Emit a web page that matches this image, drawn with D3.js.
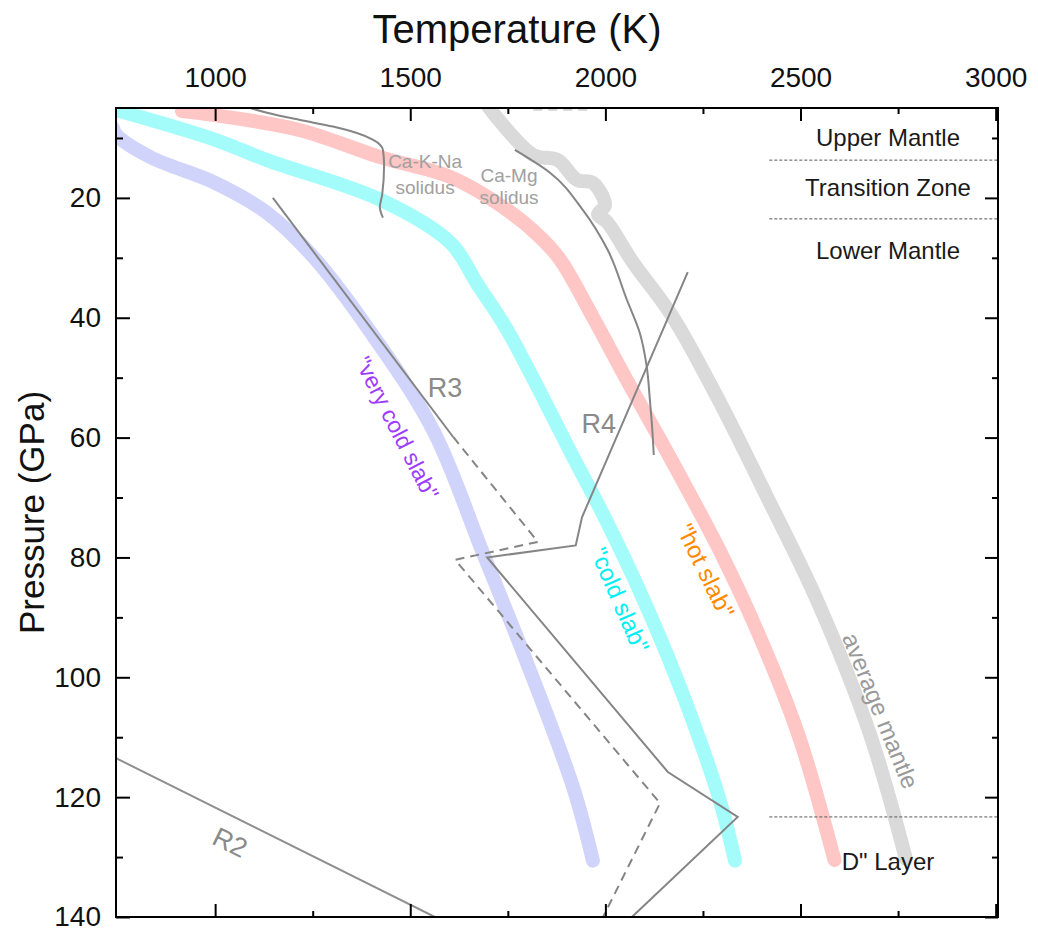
<!DOCTYPE html>
<html>
<head>
<meta charset="utf-8">
<script src="https://cdn.jsdelivr.net/npm/d3@7"></script>
<style>
	body { margin: 0; background: #fff; }
	svg { font-family: 'Liberation Sans', Arial, sans-serif; }
</style>
</head>
<body>
<svg id="chart" width="1038" height="931"></svg>
<script>
'use strict';

// all curves are [temperature (K), pressure (GPa)]
var veryColdSlab = [[738, 8.3], [747, 9.5], [834, 13.2], [1000, 17.5], [1133, 22.5], [1251, 29.8], [1394, 42.0],
	[1558, 58.7], [1686, 79.2], [1789, 95.9], [1917, 118.3], [1968, 130.6]];
var coldSlab = [[738, 5.2], [1000, 10.3], [1133, 13.7], [1423, 20.3], [1603, 27.5], [1673, 34.5], [1748, 42.0],
	[1917, 63.2], [2001, 73.7], [2109, 88.7], [2204, 103.8], [2293, 120.5], [2332, 130.6]];
var hotSlab = [[915, 5.5], [1000, 6.2], [1218, 8.7], [1423, 13.2], [1602, 16.5], [1748, 22.0], [1832, 26.5],
	[1884, 30.3], [1968, 39.9], [2055, 50.4], [2122, 58.2], [2183, 65.4], [2290, 78.5], [2388, 92.1], [2493, 109.3],
	[2587, 130.5]];
var averageMantle = [[1700, 4.8], [1814, 12.8], [1878, 13.7], [1927, 17.0], [1968, 17.5], [1999, 21.2], [1981, 22.8],
	[2004, 24.0], [2070, 30.7], [2173, 39.9], [2286, 53.2], [2415, 70.0], [2542, 87.1], [2677, 109.3], [2770, 130.3]];

var caKNaSolidus = [[1090, 5.0], [1133, 5.8], [1218, 7.0], [1302, 8.1], [1405, 10.3], [1430, 12.0], [1433, 14.5],
	[1428, 19.5], [1422, 21.5], [1430, 23.3]];
var caMgSolidus = [[1768, 12.0], [1858, 15.8], [1942, 22.0], [2006, 28.7], [2055, 37.0], [2088, 42.5], [2106, 48.2],
	[2114, 53.7], [2119, 57.6], [2124, 62.9]];

var r2 = [[700, 112.0], [1563, 140.0]];
var r3 = [[1148, 20.0], [1610, 59.9]];
var r3Dashed = [[1610, 59.9], [1827, 77.4], [1615, 80.4], [2140, 121.0], [1994, 140.0]];
var r4 = [[2211, 32.4], [1940, 73.3], [1924, 78.0], [1697, 80.0], [2160, 115.8], [2339, 123.3], [2068, 140.0]];
var topDash = [[1815, 5.3], [1965, 5.3]];

// layer boundaries (GPa)
var boundaries = [13.7, 23.5, 123.3];
var layerNames = ['Upper Mantle', 'Transition Zone', 'Lower Mantle', 'D" Layer'];
var layerPressures = [10.0, 18.3, 28.7, 130.8];

var majorT = [1000, 1500, 2000, 2500, 3000];
var minorT = [1250, 1750, 2250, 2750];
var majorP = [20, 40, 60, 80, 100, 120, 140];
var minorP = [10, 30, 50, 70, 90, 110, 130];

var svg = d3.select('#chart');
var plotLeft = 116, plotRight = 998, plotTop = 108, plotBottom = 917;

var x = d3.scaleLinear().domain([746, 3006]).range([plotLeft, plotRight]);
var y = d3.scaleLinear().domain([5, 140]).range([plotTop, plotBottom]);

svg.append('defs').append('clipPath').attr('id', 'plot-clip')
	.append('rect').attr('x', plotLeft).attr('y', plotTop)
	.attr('width', plotRight - plotLeft).attr('height', plotBottom - plotTop);

var plot = svg.append('g').attr('clip-path', 'url(#plot-clip)');

var smooth = d3.line().x(function (d) { return x(d[0]); }).y(function (d) { return y(d[1]); }).curve(d3.curveMonotoneY);
var rounded = d3.line().x(function (d) { return x(d[0]); }).y(function (d) { return y(d[1]); })
	.curve(d3.curveCatmullRom.alpha(0.5));
var straight = d3.line().x(function (d) { return x(d[0]); }).y(function (d) { return y(d[1]); });

// thick geotherm bands
function band(data, colour) {
	plot.append('path')
		.attr('d', rounded(data))
		.attr('fill', 'none')
		.attr('stroke', colour)
		.attr('stroke-width', 14)
		.attr('stroke-linecap', 'round')
		.attr('stroke-linejoin', 'round');
}
band(averageMantle, '#dadada');
band(hotSlab, '#ffc6c6');
band(coldSlab, '#a3fcfa');
band(veryColdSlab, '#d1d4fa');

// reaction / solidus lines
function thin(data, gen, dashed, colour) {
	plot.append('path')
		.attr('d', gen(data))
		.attr('fill', 'none')
		.attr('stroke', colour || '#858585')
		.attr('stroke-width', 2)
		.attr('stroke-dasharray', dashed ? '9,6' : null)
		.attr('stroke-linejoin', 'miter');
}
thin(caKNaSolidus, smooth, false);
thin(caMgSolidus, smooth, false);
thin(r2, straight, false, '#8f8f8f');
thin(r3, straight, false);
thin(r3Dashed, straight, true);
thin(r4, straight, false);
thin(topDash, straight, true, '#d4d4d4');

// layer boundaries and names
boundaries.forEach(function (p) {
	svg.append('line')
		.attr('x1', x(2420)).attr('x2', plotRight)
		.attr('y1', y(p)).attr('y2', y(p))
		.attr('stroke', '#555')
		.attr('stroke-width', 1)
		.attr('stroke-dasharray', '3,2');
});
layerNames.forEach(function (name, i) {
	svg.append('text')
		.attr('x', 888).attr('y', y(layerPressures[i]))
		.attr('text-anchor', 'middle')
		.attr('dominant-baseline', 'central')
		.attr('font-size', 24)
		.attr('fill', '#1a1a1a')
		.text(name);
});

// curve labels
function label(text, t, p, angle, size, colour) {
	svg.append('text')
		.attr('transform', 'translate(' + x(t) + ',' + y(p) + ') rotate(' + angle + ')')
		.attr('text-anchor', 'middle')
		.attr('dominant-baseline', 'central')
		.attr('font-size', size)
		.attr('fill', colour)
		.text(text);
}
label('"very cold slab"', 1466, 58.4, 63, 23, '#9d3cff');
label('"cold slab"', 2037, 87.1, 66.5, 24, '#00f0f4');
label('"hot slab"', 2257, 82.2, 64, 24, '#ff8a00');
label('average mantle', 2705, 105.6, 68, 24, '#9a9a9a');
label('R3', 1589, 51.7, 0, 27, '#8a8a8a');
label('R4', 1983, 57.7, 0, 27, '#8a8a8a');
label('R2', 1038, 127.6, 26, 27, '#8a8a8a');
label('Ca-K-Na', 1538, 14.0, 0, 19, '#a0a0a0');
label('solidus', 1538, 18.2, 0, 19, '#a0a0a0');
label('Ca-Mg', 1753, 16.2, 0, 19, '#a0a0a0');
label('solidus', 1753, 20.0, 0, 19, '#a0a0a0');

// axes, ticks point inwards on all four sides
function axis(gen, transform, values, size, padding, showLabels) {
	var g = svg.append('g')
		.attr('transform', transform)
		.call(gen.tickValues(values).tickSize(-size).tickPadding(padding)
			.tickFormat(showLabels ? d3.format('d') : ''));
	g.select('.domain').remove();
	g.selectAll('.tick line').attr('stroke', '#000').attr('stroke-width', 2);
	g.selectAll('.tick text').attr('font-size', 28).attr('fill', '#111');
	g.attr('font-family', null);
	return g;
}
axis(d3.axisTop(x), 'translate(0,' + plotTop + ')', majorT, 13, 21, true);
axis(d3.axisTop(x), 'translate(0,' + plotTop + ')', minorT, 6, 0, false);
axis(d3.axisBottom(x), 'translate(0,' + plotBottom + ')', majorT, 13, 0, false);
axis(d3.axisBottom(x), 'translate(0,' + plotBottom + ')', minorT, 6, 0, false);
axis(d3.axisLeft(y), 'translate(' + plotLeft + ',0)', majorP, 14, 15, true);
axis(d3.axisLeft(y), 'translate(' + plotLeft + ',0)', minorP, 7, 0, false);
axis(d3.axisRight(y), 'translate(' + plotRight + ',0)', majorP, 13, 0, false);
axis(d3.axisRight(y), 'translate(' + plotRight + ',0)', minorP, 6, 0, false);

svg.append('rect')
	.attr('x', plotLeft).attr('y', plotTop)
	.attr('width', plotRight - plotLeft).attr('height', plotBottom - plotTop)
	.attr('fill', 'none')
	.attr('stroke', '#000')
	.attr('stroke-width', 2);

// axis titles
svg.append('text')
	.attr('x', 517).attr('y', 29)
	.attr('text-anchor', 'middle')
	.attr('dominant-baseline', 'central')
	.attr('font-size', 40)
	.attr('fill', '#111')
	.text('Temperature (K)');
svg.append('text')
	.attr('transform', 'translate(31,' + ((plotTop + plotBottom) / 2) + ') rotate(-90)')
	.attr('text-anchor', 'middle')
	.attr('dominant-baseline', 'central')
	.attr('font-size', 35)
	.attr('fill', '#111')
	.text('Pressure (GPa)');
</script>
</body>
</html>
